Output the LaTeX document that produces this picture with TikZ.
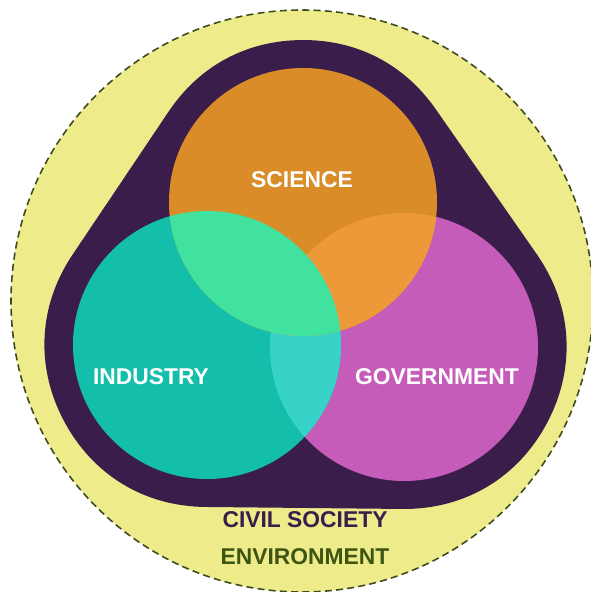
\documentclass[tikz,border=0pt]{standalone}
\usepackage{fontspec}
\setmainfont{Liberation Sans}
\usepackage{tikz}

\definecolor{envyellow}{HTML}{EEEB8A}
\definecolor{envline}{HTML}{3F4A1E}
\definecolor{civilpurple}{HTML}{3B1D4B}
\definecolor{sciorange}{HTML}{D98C28}
\definecolor{indteal}{HTML}{13BFAB}
\definecolor{govpink}{HTML}{C55CB9}
\definecolor{sciind}{HTML}{41E19F}
\definecolor{scigov}{HTML}{EE9939}
\definecolor{indgov}{HTML}{37D3C8}
\definecolor{envgreen}{HTML}{3E5512}

\begin{document}
\begin{tikzpicture}[x=0.02cm,y=-0.02cm]
		\useasboundingbox (0,0) rectangle (591,592);

		\coordinate (S) at (303,202);
		\coordinate (I) at (207,345);
		\coordinate (G) at (404,347);
		\coordinate (E) at (302,301);

		% environment
		\fill[envyellow] (E) circle (291);
		\draw[envline,line width=0.9pt,dash pattern=on 4pt off 2.4pt] (E) circle (291);

		% civil society: hull around the three circles
		\draw[civilpurple,fill=civilpurple,line width=6.48cm,line join=round]
			(S) -- (I) -- (G) -- cycle;

		% the three helices
		\fill[govpink] (G) circle (134);
		\fill[indteal] (I) circle (134);
		\fill[sciorange] (S) circle (134);

		% overlaps
		\begin{scope}
			\clip (I) circle (134);
			\fill[indgov] (G) circle (134);
		\end{scope}
		\begin{scope}
			\clip (S) circle (134);
			\fill[scigov] (G) circle (134);
			\fill[sciind] (I) circle (134);
		\end{scope}

		\begin{scope}[every node/.style={font=\bfseries\fontsize{13}{15}\selectfont}]
			\node[white] (sci) at (302,180) {SCIENCE};
			\node[white] (ind) at (151,377) {INDUSTRY};
			\node[white] (gov) at (437,377) {GOVERNMENT};

			\node[civilpurple] (civ) at (305,520) {CIVIL SOCIETY};
			\node[envgreen] (env) at (305,557) {ENVIRONMENT};
		\end{scope}
		\end{tikzpicture}
\end{document}
